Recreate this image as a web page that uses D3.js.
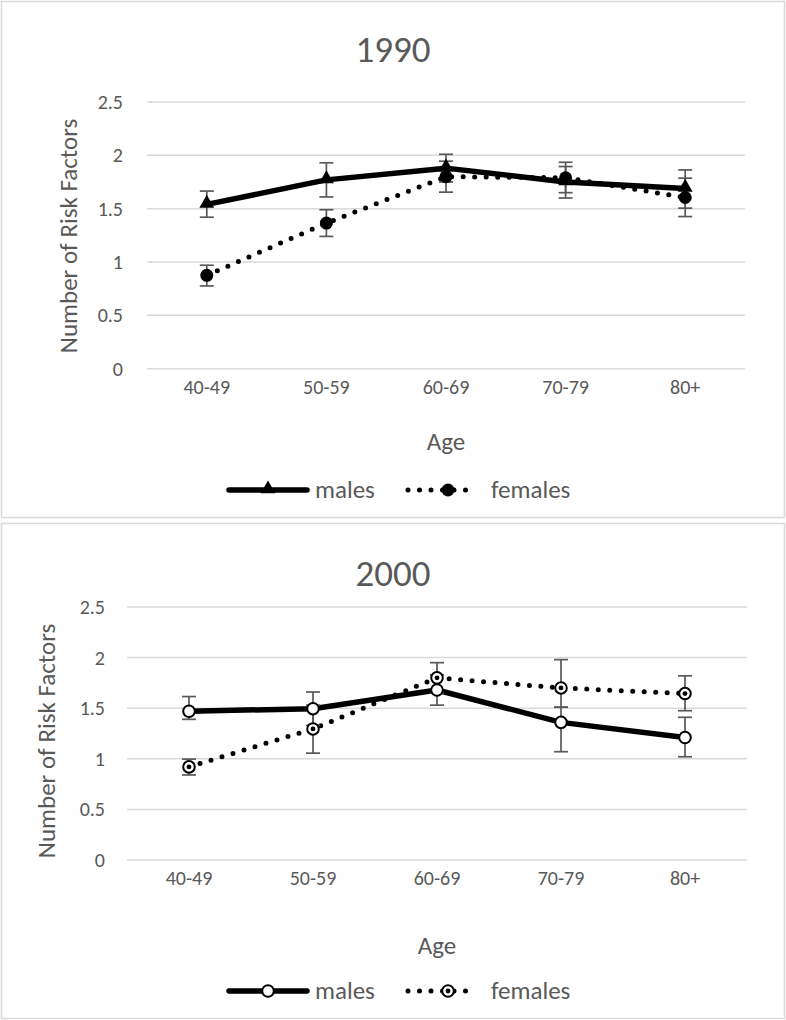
<!DOCTYPE html>
<html><head><meta charset="utf-8">
<script src="https://cdn.jsdelivr.net/npm/d3@7"></script>
<style>
body{margin:0;background:#fff;}
svg text{font-family:Carlito,Lato,"Open Sans",sans-serif;fill:#595959;}
</style></head><body>
<svg id="c" width="786" height="1020"></svg>
<script>
const categories = ["40-49","50-59","60-69","70-79","80+"];
const yTicks = [0,0.5,1,1.5,2,2.5];
const seriesNames = ["males","females"];
// 1990
const males1990 = [1.54,1.77,1.88,1.75,1.69];
const males1990Low = [1.42,1.61,1.75,1.60,1.505];
const males1990High = [1.665,1.93,2.01,1.895,1.863];
const females1990 = [0.875,1.365,1.80,1.79,1.605];
const females1990Low = [0.776,1.24,1.655,1.65,1.426];
const females1990High = [0.97,1.49,1.945,1.935,1.786];
// 2000
const males2000 = [1.47,1.495,1.68,1.36,1.21];
const males2000Low = [1.39,1.33,1.53,1.07,1.02];
const males2000High = [1.615,1.66,1.83,1.51,1.41];
const females2000 = [0.92,1.295,1.80,1.70,1.645];
const females2000Low = [0.84,1.056,1.65,1.51,1.475];
const females2000High = [0.997,1.53,1.95,1.98,1.82];

const svg = d3.select("#c");
const grey = "#595959";

function panel(o){
  const g = svg.append("g");
  g.append("rect").attr("x",o.box[0]+0.5).attr("y",o.box[1]+0.5).attr("width",o.box[2]).attr("height",o.box[3])
    .attr("fill","#fff").attr("stroke","#d9d9d9").attr("stroke-width",1.5);
  const x = d3.scaleBand().domain(categories).range([o.x0,o.x1]);
  const y = d3.scaleLinear().domain([0,2.5]).range([o.y0,o.y1]);
  g.selectAll(".grid").data(yTicks).join("line")
    .attr("x1",o.x0).attr("x2",o.x1).attr("y1",d=>y(d)).attr("y2",d=>y(d))
    .attr("stroke","#d9d9d9").attr("stroke-width",1.5);
  const ya = g.append("g").attr("transform",`translate(${o.x0},0)`)
    .call(d3.axisLeft(y).tickValues(yTicks).tickFormat(d=>String(d)).tickSize(0).tickPadding(o.ypad));
  ya.select(".domain").remove();
  ya.selectAll("text").style("font-size","20px").attr("fill",grey).style("font-family",null);
  const xa = g.append("g").attr("transform",`translate(0,${o.y0})`)
    .call(d3.axisBottom(x).tickSize(0).tickPadding(11));
  xa.select(".domain").remove();
  xa.selectAll("text").style("font-size","20px").attr("fill",grey).style("font-family",null);
  g.append("text").attr("x",393).attr("y",o.titleY).attr("text-anchor","middle").style("font-size","37px").text(o.title);
  g.append("text").attr("x",(o.x0+o.x1)/2).attr("y",o.ageY).attr("text-anchor","middle").style("font-size","25px").text("Age");
  g.append("text").attr("transform",`translate(${o.ytX},${o.ytY}) rotate(-90)`).attr("text-anchor","middle")
    .style("font-size","25px").text("Number of Risk Factors");
  const cx = d=>x(d)+x.bandwidth()/2;
  const line = d3.line().x((d,i)=>cx(categories[i])).y(d=>y(d));
  g.append("path").datum(o.m).attr("d",line).attr("fill","none").attr("stroke","#000").attr("stroke-width",5.5).attr("stroke-linejoin","round");
  g.append("path").datum(o.f).attr("d",line).attr("fill","none").attr("stroke","#000").attr("stroke-width",5)
    .attr("stroke-dasharray","0,11.5").attr("stroke-linecap","round");
  function err(lo,hi){
    categories.forEach((c,i)=>{
      const xx = cx(c);
      g.append("line").attr("x1",xx).attr("x2",xx).attr("y1",y(lo[i])).attr("y2",y(hi[i])).attr("stroke",grey).attr("stroke-width",1.7);
      [lo[i],hi[i]].forEach(v=>g.append("line").attr("x1",xx-7).attr("x2",xx+7).attr("y1",y(v)).attr("y2",y(v)).attr("stroke",grey).attr("stroke-width",1.7));
    });
  }
  err(o.mLo,o.mHi); err(o.fLo,o.fHi);
  categories.forEach((c,i)=>{ o.mMark(g,cx(c),y(o.m[i])); });
  categories.forEach((c,i)=>{ o.fMark(g,cx(c),y(o.f[i])); });
  const ly = o.legY;
  g.append("line").attr("x1",o.leg[0]).attr("x2",o.leg[0]+78).attr("y1",ly).attr("y2",ly).attr("stroke","#000").attr("stroke-width",5.5).attr("stroke-linecap","round");
  o.mMark(g,o.leg[0]+39,ly);
  g.append("text").attr("x",o.leg[0]+86).attr("y",ly+8).style("font-size","25px").text(seriesNames[0]);
  g.append("line").attr("x1",o.leg[1]).attr("x2",o.leg[1]+68).attr("y1",ly).attr("y2",ly).attr("stroke","#000").attr("stroke-width",5)
    .attr("stroke-dasharray","0,11.5").attr("stroke-linecap","round");
  o.fMark(g,o.leg[1]+40,ly);
  g.append("text").attr("x",o.leg[1]+83).attr("y",ly+8).style("font-size","25px").text(seriesNames[1]);
}

const tri = (g,x,y)=>g.append("path").attr("d",d3.symbol(d3.symbolTriangle,95)()).attr("transform",`translate(${x},${y-1})`).attr("fill","#000");
const dot = (g,x,y)=>g.append("circle").attr("cx",x).attr("cy",y).attr("r",6.5).attr("fill","#000");
const ring = (g,x,y)=>g.append("circle").attr("cx",x).attr("cy",y).attr("r",5.8).attr("fill","#fff").attr("stroke","#000").attr("stroke-width",2);
const ringDot = (g,x,y)=>{ring(g,x,y); g.append("circle").attr("cx",x).attr("cy",y).attr("r",2.4).attr("fill","#000");};

panel({box:[1,1,783,516],x0:147,x1:745,y0:368.7,y1:102,ypad:24,title:"1990",titleY:62,ageY:450,ytX:77,ytY:236,legY:490,leg:[229,408],
  m:males1990,mLo:males1990Low,mHi:males1990High,f:females1990,fLo:females1990Low,fHi:females1990High,mMark:tri,fMark:dot});
panel({box:[1,523,783,495],x0:127,x1:747,y0:860,y1:607,ypad:22,title:"2000",titleY:586,ageY:954,ytX:55,ytY:741,legY:991,leg:[229,408],
  m:males2000,mLo:males2000Low,mHi:males2000High,f:females2000,fLo:females2000Low,fHi:females2000High,mMark:ring,fMark:ringDot});
</script></body></html>
